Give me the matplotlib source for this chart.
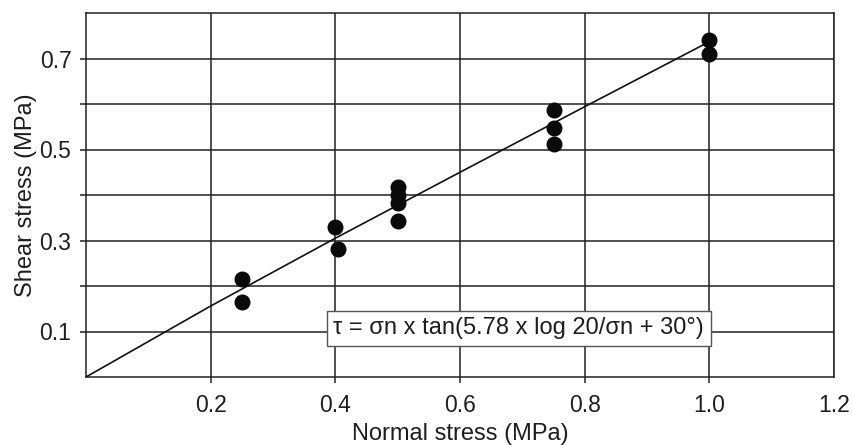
import matplotlib
matplotlib.use("Agg")
import matplotlib.pyplot as plt

plt.rcParams['font.family'] = ['Liberation Sans', 'DejaVu Sans']

# Measured data (normal stress, shear stress), MPa
normal_stress = [0.25, 0.25, 0.40, 0.405, 0.50, 0.50, 0.50, 0.50, 0.75, 0.75, 0.75, 1.00, 1.00]
shear_stress = [0.215, 0.164, 0.330, 0.281, 0.418, 0.400, 0.383, 0.342, 0.586, 0.548, 0.513, 0.740, 0.710]

# Fitted envelope
fit_x = [0.0, 0.2, 0.4, 0.6, 0.8, 1.0]
fit_y = [0.0, 0.156, 0.305, 0.450, 0.594, 0.737]

x_ticks = [0.2, 0.4, 0.6, 0.8, 1.0, 1.2]
x_ticklabels = ['0.2', '0.4', '0.6', '0.8', '1.0', '1.2']
y_ticks = [0.1, 0.2, 0.3, 0.4, 0.5, 0.6, 0.7]
y_ticklabels = ['0.1', '', '0.3', '', '0.5', '', '0.7']

equation = 'τ = σn x tan(5.78 x log 20/σn + 30°)'

txt = '#1e1e1e'
gridc = '#222222'

fig = plt.figure(figsize=(8.52, 4.45), dpi=100)
ax = fig.add_axes([86/852, 1 - 377/445, (834 - 86)/852, (377 - 13)/445])
ax.set_xlim(0, 1.2)
ax.set_ylim(0, 0.8)

ax.set_xticks(x_ticks)
ax.set_xticklabels(x_ticklabels)
ax.set_yticks(y_ticks)
ax.set_yticklabels(y_ticklabels)
ax.grid(True, color=gridc, linewidth=1.1)
ax.set_axisbelow(True)
for s in ax.spines.values():
    s.set_color(gridc)
    s.set_linewidth(1.1)
ax.tick_params(axis='both', direction='out', length=4.5, width=1.1, color=gridc,
               labelsize=16.5, labelcolor=txt)
ax.tick_params(axis='x', pad=8)
ax.tick_params(axis='y', pad=6)
# hide the tick mark at 1.2 (on right spine)
ax.xaxis.get_major_ticks()[-1].tick1line.set_visible(False)

ax.plot(fit_x, fit_y, color='#111111', linewidth=1.2, zorder=3)
ax.plot(normal_stress, shear_stress, 'o', color='#0a0a0a', markersize=10.5, zorder=4)

ax.text(0.694, 0.107, equation, fontsize=17, color=txt, ha='center', va='center', zorder=5,
        bbox=dict(boxstyle='square,pad=0.28', facecolor='white', edgecolor='#555555', linewidth=1.0))

ax.set_xlabel('Normal stress (MPa)', fontsize=17, color=txt, labelpad=4)
ax.set_ylabel('Shear stress (MPa)', fontsize=17, color=txt, labelpad=2)

fig.savefig('out.png', dpi=100, facecolor='white')
